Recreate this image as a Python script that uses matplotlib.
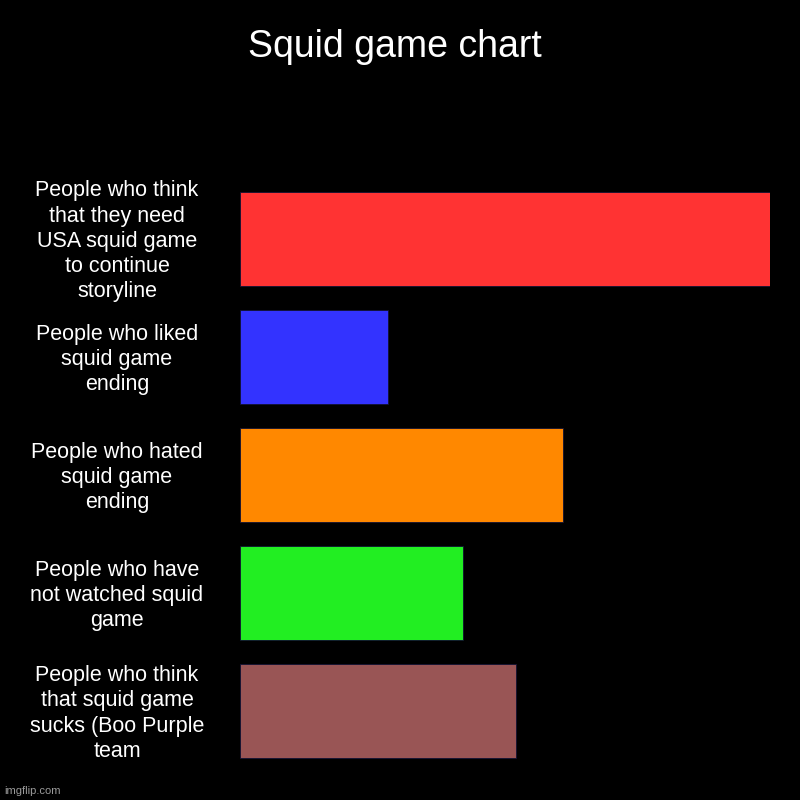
import matplotlib.pyplot as plt
import matplotlib.transforms as mtransforms

labels = [
    "People who think\nthat they need\nUSA squid game\nto continue\nstoryline",
    "People who liked\nsquid game\nending",
    "People who hated\nsquid game\nending",
    "People who have\nnot watched squid\ngame",
    "People who think\nthat squid game\nsucks (Boo Purple\nteam",
]
values = [100, 28, 61, 42, 52]
colors = ["#ff3333", "#3333ff", "#ff8800", "#22ee22", "#995555"]

plt.rcParams['font.family'] = ['Liberation Sans', 'DejaVu Sans']

fig = plt.figure(figsize=(8, 8), dpi=100, facecolor="black")
ax = fig.add_axes([0.30, 0.0375, 0.6625, 0.7375])
ax.set_facecolor("black")

y = list(range(len(values)))
ax.barh(y, values, height=0.797, color=colors, edgecolor="#111133", linewidth=0.6)
ax.set_xlim(0, max(values))
ax.set_ylim(len(values) - 0.5, -0.5)
ax.axis("off")

trans = mtransforms.blended_transform_factory(fig.transFigure, ax.transData)
for i, lab in enumerate(labels):
    ax.text(117 / 800, i + 0.02, lab, transform=trans, ha="center", va="center",
            color="white", fontsize=15.5, linespacing=1.27)

fig.text(394.5 / 800, 1 - 47 / 800, "Squid game chart", ha="center", va="center",
         color="white", fontsize=27)
fig.text(4 / 800, 1 - 791 / 800, "imgflip.com", ha="left", va="center",
         color="#9a9a9a", fontsize=8)

fig.savefig("out.png", dpi=100, facecolor="black")
